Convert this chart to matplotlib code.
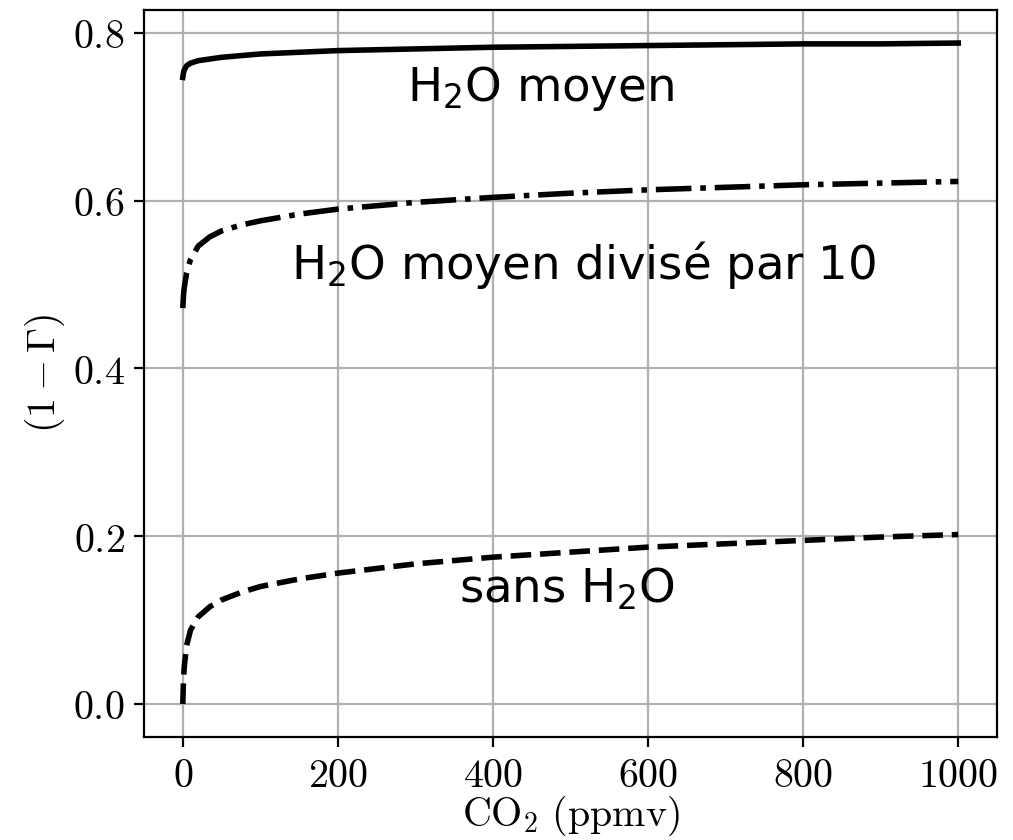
import matplotlib
matplotlib.use("Agg")
import matplotlib.pyplot as plt

# CO2 concentration (ppmv)
co2_ppmv = [0, 1, 2, 5, 10, 20, 35, 50, 75, 100, 150, 200,
            300, 400, 500, 600, 700, 800, 900, 1000]

# (1 - Gamma) for each humidity case
h2o_moyen = [0.747, 0.753, 0.756, 0.761, 0.764, 0.767, 0.769, 0.771, 0.773, 0.775,
             0.777, 0.779, 0.781, 0.783, 0.784, 0.785, 0.786, 0.787, 0.787, 0.788]
h2o_div10 = [0.472, 0.488, 0.497, 0.514, 0.530, 0.546, 0.557, 0.564, 0.571, 0.576,
             0.584, 0.590, 0.598, 0.604, 0.609, 0.613, 0.616, 0.619, 0.621, 0.623]
sans_h2o = [0.000, 0.030, 0.045, 0.070, 0.088, 0.104, 0.116, 0.124, 0.133, 0.140,
            0.149, 0.156, 0.167, 0.175, 0.181, 0.187, 0.191, 0.195, 0.199, 0.202]

x_ticks = [0, 200, 400, 600, 800, 1000]
x_tick_labels = ["0", "200", "400", "600", "800", "1000"]
y_ticks = [0.0, 0.2, 0.4, 0.6, 0.8]
y_tick_labels = ["0.0", "0.2", "0.4", "0.6", "0.8"]

curve_labels = ["H$_2$O moyen", "H$_2$O moyen divisé par 10", "sans H$_2$O"]

plt.rcParams["mathtext.fontset"] = "cm"
plt.rcParams["font.family"] = "DejaVu Sans"

fig = plt.figure(figsize=(10.13 / 2, 8.40 / 2), dpi=200)
ax = fig.add_axes([144 / 1013, 1 - 737 / 840, 853 / 1013, 727 / 840])

ax.plot(co2_ppmv, h2o_moyen, color="black", lw=2, ls="-")
ax.plot(co2_ppmv, h2o_div10, color="black", lw=2, ls="-.")
ax.plot(co2_ppmv, sans_h2o, color="black", lw=2, ls="--")

ax.set_xticks(x_ticks, [f"${t}$" for t in x_tick_labels])
ax.set_yticks(y_ticks, [f"${t}$" for t in y_tick_labels])
ax.tick_params(labelsize=14.4)
ax.grid(True, color="#b0b0b0", lw=0.8)

ax.set_xlabel(r"$\mathrm{CO}_2\ (\mathrm{ppmv})$", fontsize=14.4, labelpad=-1)
ax.set_ylabel(r"$(1-\Gamma)$", fontsize=14.4, labelpad=2)

text_kw = dict(fontsize=16.8, ha="left", va="baseline", math_fontfamily="dejavusans")
ax.text(289, 0.719, curve_labels[0], **text_kw)
ax.text(139, 0.507, curve_labels[1], **text_kw)
ax.text(356, 0.121, curve_labels[2], **text_kw)

fig.savefig("out.png", dpi=200)
